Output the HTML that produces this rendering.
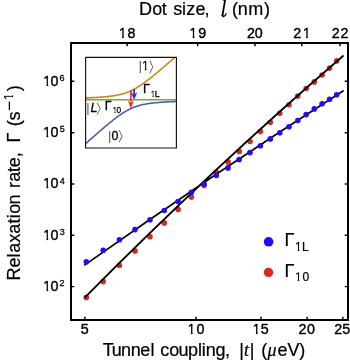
<!DOCTYPE html><html><head><meta charset="utf-8"><style>html,body{margin:0;padding:0;background:#fff;width:350px;height:360px;overflow:hidden}svg{display:block}</style></head><body>
<svg width="350" height="360" viewBox="0 0 350 360" style="will-change:transform">
<defs><clipPath id="c0"><rect x="188.57" y="323.13" width="4.19" height="3.84"/><rect x="190.91" y="323.13" width="1.68" height="11.03"/></clipPath><clipPath id="c1"><rect x="253.57" y="323.13" width="4.19" height="3.84"/><rect x="255.91" y="323.13" width="1.68" height="11.03"/></clipPath><clipPath id="c2"><rect x="119.77" y="27.13" width="4.19" height="3.84"/><rect x="122.11" y="27.13" width="1.68" height="11.03"/></clipPath><clipPath id="c3"><rect x="190.37" y="27.13" width="4.19" height="3.84"/><rect x="192.71" y="27.13" width="1.68" height="11.03"/></clipPath><clipPath id="c4"><rect x="303.79" y="27.13" width="4.19" height="3.84"/><rect x="306.13" y="27.13" width="1.68" height="11.03"/></clipPath><clipPath id="c5"><rect x="44.17" y="280.53" width="4.19" height="3.84"/><rect x="46.51" y="280.53" width="1.68" height="11.03"/></clipPath><clipPath id="c6"><rect x="44.17" y="229.23" width="4.19" height="3.84"/><rect x="46.51" y="229.23" width="1.68" height="11.03"/></clipPath><clipPath id="c7"><rect x="44.17" y="177.93" width="4.19" height="3.84"/><rect x="46.51" y="177.93" width="1.68" height="11.03"/></clipPath><clipPath id="c8"><rect x="44.17" y="126.63" width="4.19" height="3.84"/><rect x="46.51" y="126.63" width="1.68" height="11.03"/></clipPath><clipPath id="c9"><rect x="44.17" y="75.23" width="4.19" height="3.84"/><rect x="46.51" y="75.23" width="1.68" height="11.03"/></clipPath><clipPath id="c10"><rect x="295.82" y="242.01" width="3.52" height="3.22"/><rect x="297.79" y="242.01" width="1.41" height="9.26"/></clipPath><clipPath id="c11"><rect x="295.82" y="272.61" width="3.52" height="3.22"/><rect x="297.79" y="272.61" width="1.41" height="9.26"/></clipPath><clipPath id="c12"><rect x="181.01" y="-16.46" width="3.66" height="3.36"/><rect x="183.06" y="-16.46" width="1.47" height="9.64"/></clipPath><clipPath id="c13"><rect x="142.81" y="60.84" width="3.66" height="3.36"/><rect x="144.86" y="60.84" width="1.47" height="9.64"/></clipPath><clipPath id="c14"><rect x="151.10" y="90.18" width="2.61" height="2.39"/><rect x="152.55" y="90.18" width="1.05" height="6.87"/></clipPath><clipPath id="c15"><rect x="113.21" y="107.12" width="2.43" height="2.23"/><rect x="114.57" y="107.12" width="0.98" height="6.40"/></clipPath></defs>
<g fill="#d42a20"><circle cx="86.3" cy="297.4" r="2.8"/><circle cx="103.2" cy="281.6" r="2.8"/><circle cx="119.4" cy="265.5" r="2.8"/><circle cx="135.0" cy="250.9" r="2.8"/><circle cx="150.0" cy="236.7" r="2.8"/><circle cx="164.3" cy="222.9" r="2.8"/><circle cx="178.1" cy="209.4" r="2.8"/><circle cx="191.4" cy="197.1" r="2.8"/><circle cx="204.1" cy="185.4" r="2.8"/><circle cx="216.3" cy="172.2" r="2.8"/><circle cx="228.0" cy="161.9" r="2.8"/><circle cx="239.2" cy="151.4" r="2.8"/><circle cx="250.0" cy="141.5" r="2.8"/><circle cx="260.4" cy="131.4" r="2.8"/><circle cx="270.3" cy="122.3" r="2.8"/><circle cx="279.8" cy="113.3" r="2.8"/><circle cx="289.0" cy="104.8" r="2.8"/><circle cx="297.8" cy="96.1" r="2.8"/><circle cx="306.2" cy="88.5" r="2.8"/><circle cx="314.3" cy="81.9" r="2.8"/><circle cx="322.1" cy="75.0" r="2.8"/><circle cx="329.6" cy="68.1" r="2.8"/><circle cx="336.7" cy="60.9" r="2.8"/></g>
<path d="M85.0 297.29Q214.00 167.14 343.0 56.00 M84.9 264.89Q213.95 173.49 343.0 90.91" fill="none" stroke="#000" stroke-width="1.75" stroke-linecap="round"/>
<g fill="#220cf6"><circle cx="86.3" cy="261.7" r="2.8"/><circle cx="103.2" cy="250.3" r="2.8"/><circle cx="119.4" cy="239.7" r="2.8"/><circle cx="135.0" cy="229.6" r="2.8"/><circle cx="150.0" cy="219.8" r="2.8"/><circle cx="164.3" cy="210.5" r="2.8"/><circle cx="178.1" cy="201.5" r="2.8"/><circle cx="191.4" cy="192.3" r="2.8"/><circle cx="204.1" cy="184.0" r="2.8"/><circle cx="216.3" cy="175.5" r="2.8"/><circle cx="228.0" cy="167.9" r="2.8"/><circle cx="239.2" cy="159.6" r="2.8"/><circle cx="250.0" cy="152.6" r="2.8"/><circle cx="260.4" cy="145.7" r="2.8"/><circle cx="270.3" cy="138.9" r="2.8"/><circle cx="279.8" cy="132.7" r="2.8"/><circle cx="289.0" cy="126.7" r="2.8"/><circle cx="297.8" cy="120.5" r="2.8"/><circle cx="306.2" cy="114.6" r="2.8"/><circle cx="314.3" cy="108.9" r="2.8"/><circle cx="322.1" cy="103.8" r="2.8"/><circle cx="329.6" cy="99.3" r="2.8"/><circle cx="336.7" cy="94.8" r="2.8"/></g>
<rect x="71.0" y="43.0" width="277.0" height="277.0" fill="none" stroke="#000" stroke-width="2"/>
<path d="M84.9 320.0v-3.3 M196.0 320.0v-3.3 M261.0 320.0v-3.3 M307.1 320.0v-3.3 M342.8 320.0v-3.3 M71.0 286.6h3.3 M348.0 286.6h-3.3 M71.0 235.3h3.3 M348.0 235.3h-3.3 M71.0 184.0h3.3 M348.0 184.0h-3.3 M71.0 132.7h3.3 M348.0 132.7h-3.3 M71.0 81.3h3.3 M348.0 81.3h-3.3 M127.1 43.0v3.3 M197.6 43.0v3.3 M255.0 43.0v3.3 M301.8 43.0v3.3 M340.0 43.0v3.3" stroke="#000" stroke-width="1.45" fill="none"/>
<g fill="#000" stroke="#000"><text x="80.64" y="333.60" font-size="14.3" font-family="Liberation Sans" stroke-width="0.4">5</text><text x="187.52" y="333.60" font-size="14.3" font-family="Liberation Sans" stroke-width="0.4" clip-path="url(#c0)">1</text><text x="196.61" y="333.60" font-size="14.3" font-family="Liberation Sans" stroke-width="0.4">0</text><text x="252.52" y="333.60" font-size="14.3" font-family="Liberation Sans" stroke-width="0.4" clip-path="url(#c1)">1</text><text x="260.85" y="333.60" font-size="14.3" font-family="Liberation Sans" stroke-width="0.4">5</text><text x="298.58 306.91" y="333.60" font-size="14.3" font-family="Liberation Sans" stroke-width="0.4">20</text><text x="334.28 342.25" y="333.60" font-size="14.3" font-family="Liberation Sans" stroke-width="0.4">25</text><text x="118.72" y="37.60" font-size="14.3" font-family="Liberation Sans" stroke-width="0.4" clip-path="url(#c2)">1</text><text x="127.57" y="37.60" font-size="14.3" font-family="Liberation Sans" stroke-width="0.4">8</text><text x="189.32" y="37.60" font-size="14.3" font-family="Liberation Sans" stroke-width="0.4" clip-path="url(#c3)">1</text><text x="198.22" y="37.60" font-size="14.3" font-family="Liberation Sans" stroke-width="0.4">9</text><text x="246.88 254.71" y="37.60" font-size="14.3" font-family="Liberation Sans" stroke-width="0.4">20</text><text x="293.18" y="37.60" font-size="14.3" font-family="Liberation Sans" stroke-width="0.4">2</text><text x="302.74" y="37.60" font-size="14.3" font-family="Liberation Sans" stroke-width="0.4" clip-path="url(#c4)">1</text><text x="331.68 340.57" y="37.60" font-size="14.3" font-family="Liberation Sans" stroke-width="0.4">22</text><text x="43.12" y="291.00" font-size="14.3" font-family="Liberation Sans" stroke-width="0.4" clip-path="url(#c5)">1</text><text x="50.61" y="291.00" font-size="14.3" font-family="Liberation Sans" stroke-width="0.4">0</text><text x="59.55" y="286.30" font-size="9" font-family="Liberation Sans" stroke-width="0.27999999999999997">2</text><text x="43.12" y="239.70" font-size="14.3" font-family="Liberation Sans" stroke-width="0.4" clip-path="url(#c6)">1</text><text x="50.61" y="239.70" font-size="14.3" font-family="Liberation Sans" stroke-width="0.4">0</text><text x="59.66" y="235.00" font-size="9" font-family="Liberation Sans" stroke-width="0.27999999999999997">3</text><text x="43.12" y="188.40" font-size="14.3" font-family="Liberation Sans" stroke-width="0.4" clip-path="url(#c7)">1</text><text x="50.61" y="188.40" font-size="14.3" font-family="Liberation Sans" stroke-width="0.4">0</text><text x="59.79" y="183.70" font-size="9" font-family="Liberation Sans" stroke-width="0.27999999999999997">4</text><text x="43.12" y="137.10" font-size="14.3" font-family="Liberation Sans" stroke-width="0.4" clip-path="url(#c8)">1</text><text x="50.61" y="137.10" font-size="14.3" font-family="Liberation Sans" stroke-width="0.4">0</text><text x="59.64" y="132.40" font-size="9" font-family="Liberation Sans" stroke-width="0.27999999999999997">5</text><text x="43.12" y="85.70" font-size="14.3" font-family="Liberation Sans" stroke-width="0.4" clip-path="url(#c9)">1</text><text x="50.61" y="85.70" font-size="14.3" font-family="Liberation Sans" stroke-width="0.4">0</text><text x="59.54" y="81.00" font-size="9" font-family="Liberation Sans" stroke-width="0.27999999999999997">6</text><text x="138.92 152.14 161.73 168.00 173.20 181.90 186.27 195.44 204.38" y="15.20" font-size="18" font-family="Liberation Sans" stroke-width="0.22">Dot size,</text><text x="231.98 237.70 248.20 263.89" y="15.20" font-size="18" font-family="Liberation Sans" stroke-width="0.22">(nm)</text><text x="102.70 111.73 121.10 130.80 140.34 150.49 155.00 160.34 169.24 178.53 187.94 197.89 201.70 205.70 215.54 224.98 230.00 239.19" y="355.70" font-size="18" font-family="Liberation Sans" stroke-width="0.22">Tunnel coupling, |</text><text x="244.01" y="355.70" font-size="18" font-family="Liberation Serif" font-style="italic" stroke-width="0.22">t</text><text x="249.69 255.00 261.28" y="355.70" font-size="18" font-family="Liberation Sans" stroke-width="0.22">| (</text><text x="267.42" y="355.70" font-size="18" font-family="Liberation Serif" font-style="italic" stroke-width="0.22">μ</text><text x="277.54 287.62 299.29" y="355.70" font-size="18" font-family="Liberation Sans" stroke-width="0.22">eV)</text><text x="284.42" y="246.10" font-size="18" font-family="Liberation Sans" stroke-width="0.22">Γ</text><text x="294.95" y="250.80" font-size="12" font-family="Liberation Sans" stroke-width="0.22" clip-path="url(#c10)">1</text><text x="302.02" y="250.80" font-size="12" font-family="Liberation Sans" stroke-width="0.22">L</text><text x="284.42" y="277.00" font-size="18" font-family="Liberation Sans" stroke-width="0.22">Γ</text><text x="294.95" y="281.40" font-size="12" font-family="Liberation Sans" stroke-width="0.22" clip-path="url(#c11)">1</text><text x="302.39" y="281.40" font-size="12" font-family="Liberation Sans" stroke-width="0.22">0</text></g>
<text fill="#000" x="220.30" y="16.00" font-size="22.5" font-family="Liberation Serif" font-style="italic" stroke="none">l</text>
<path d="M222.4 14.2Q222 16.8 223.9 16.5Q225.3 16.1 226.2 13.6" fill="none" stroke="#000" stroke-width="1.3" stroke-linecap="round" stroke-linejoin="round"/>
<g transform="translate(20.2 280.0) rotate(-90)" fill="#000" stroke="#000"><text x="-0.38 12.64 22.49 27.24 37.40 46.24 56.63 61.70 66.24 75.50 85.00 92.10 98.24 108.13 112.84 122.68 130.00 137.52 150.00 153.78 159.50" y="0.00" font-size="18" font-family="Liberation Sans" stroke-width="0.22">Relaxation rate, Γ (s</text><text x="169.20" y="-5.60" font-size="17.2" font-family="Liberation Sans" stroke="none">−</text><text x="180.10" y="-7.30" font-size="12.5" font-family="Liberation Sans" stroke-width="0.22" clip-path="url(#c12)">1</text><text x="188.89" y="0.00" font-size="18" font-family="Liberation Sans" stroke-width="0.22">)</text></g>
<circle cx="268.6" cy="241.8" r="4.8" fill="#220cf6"/>
<circle cx="268.5" cy="272.4" r="4.7" fill="#d42a20"/>
<svg x="85.6" y="57.4" width="90.8" height="90.6" viewBox="85.6 57.4 90.8 90.6" overflow="hidden">
<path d="M84.0 97.97 L85.0 97.94 L86.0 97.90 L87.0 97.86 L88.0 97.83 L89.0 97.78 L90.0 97.74 L91.0 97.70 L92.0 97.65 L93.0 97.60 L94.0 97.55 L95.0 97.50 L96.0 97.44 L97.0 97.39 L98.0 97.33 L99.0 97.26 L100.0 97.19 L101.0 97.12 L102.0 97.05 L103.0 96.97 L104.0 96.89 L105.0 96.80 L106.0 96.71 L107.0 96.61 L108.0 96.50 L109.0 96.39 L110.0 96.28 L111.0 96.15 L112.0 96.02 L113.0 95.88 L114.0 95.73 L115.0 95.57 L116.0 95.39 L117.0 95.21 L118.0 95.01 L119.0 94.80 L120.0 94.58 L121.0 94.34 L122.0 94.08 L123.0 93.80 L124.0 93.51 L125.0 93.19 L126.0 92.86 L127.0 92.50 L128.0 92.12 L129.0 91.71 L130.0 91.28 L131.0 90.83 L132.0 90.36 L133.0 89.86 L134.0 89.33 L135.0 88.78 L136.0 88.21 L137.0 87.62 L138.0 87.01 L139.0 86.38 L140.0 85.72 L141.0 85.06 L142.0 84.37 L143.0 83.67 L144.0 82.95 L145.0 82.22 L146.0 81.48 L147.0 80.72 L148.0 79.96 L149.0 79.19 L150.0 78.40 L151.0 77.61 L152.0 76.81 L153.0 76.00 L154.0 75.19 L155.0 74.37 L156.0 73.54 L157.0 72.71 L158.0 71.88 L159.0 71.04 L160.0 70.19 L161.0 69.34 L162.0 68.49 L163.0 67.64 L164.0 66.78 L165.0 65.92 L166.0 65.05 L167.0 64.19 L168.0 63.32 L169.0 62.45 L170.0 61.58 L171.0 60.70 L172.0 59.82 L173.0 58.95 L174.0 58.07 L175.0 57.19 L176.0 56.30 L177.0 55.42 L178.0 54.54" fill="none" stroke="#c88a16" stroke-width="1.6" stroke-linejoin="round"/>
<path d="M84 99.75H178" stroke="#7aab2e" stroke-width="1.6"/>
<path d="M84.0 145.20 L85.0 144.30 L86.0 143.40 L87.0 142.50 L88.0 141.60 L89.0 140.71 L90.0 139.81 L91.0 138.92 L92.0 138.04 L93.0 137.15 L94.0 136.27 L95.0 135.39 L96.0 134.51 L97.0 133.63 L98.0 132.76 L99.0 131.89 L100.0 131.02 L101.0 130.16 L102.0 129.30 L103.0 128.45 L104.0 127.60 L105.0 126.75 L106.0 125.92 L107.0 125.08 L108.0 124.25 L109.0 123.43 L110.0 122.62 L111.0 121.81 L112.0 121.01 L113.0 120.22 L114.0 119.44 L115.0 118.67 L116.0 117.92 L117.0 117.17 L118.0 116.44 L119.0 115.72 L120.0 115.01 L121.0 114.32 L122.0 113.65 L123.0 113.00 L124.0 112.36 L125.0 111.75 L126.0 111.16 L127.0 110.59 L128.0 110.04 L129.0 109.52 L130.0 109.02 L131.0 108.54 L132.0 108.09 L133.0 107.66 L134.0 107.26 L135.0 106.88 L136.0 106.52 L137.0 106.19 L138.0 105.88 L139.0 105.58 L140.0 105.31 L141.0 105.05 L142.0 104.81 L143.0 104.59 L144.0 104.38 L145.0 104.18 L146.0 104.00 L147.0 103.83 L148.0 103.67 L149.0 103.52 L150.0 103.38 L151.0 103.25 L152.0 103.12 L153.0 103.01 L154.0 102.90 L155.0 102.79 L156.0 102.69 L157.0 102.60 L158.0 102.51 L159.0 102.43 L160.0 102.35 L161.0 102.28 L162.0 102.21 L163.0 102.14 L164.0 102.08 L165.0 102.02 L166.0 101.96 L167.0 101.90 L168.0 101.85 L169.0 101.80 L170.0 101.75 L171.0 101.71 L172.0 101.66 L173.0 101.62 L174.0 101.58 L175.0 101.54 L176.0 101.50 L177.0 101.47 L178.0 101.43" fill="none" stroke="#4562b0" stroke-width="1.6" stroke-linejoin="round"/>
</svg>
<rect x="85.6" y="57.4" width="90.8" height="90.6" fill="none" stroke="#111" stroke-width="1.15" stroke-linejoin="round"/>
<path d="M130.9 90V101.5" stroke="#e2382c" stroke-width="1.7"/><path d="M127.9 100.7L130.9 102.4L133.9 100.7L130.9 108.8Z" fill="#e2382c"/>
<path d="M134.1 89V94" stroke="#2020ff" stroke-width="1.7"/><path d="M131.0 92.5L134.1 94.5L137.2 92.5L134.1 99.8Z" fill="#2020ff"/>
<path d="M149.9 60.6L152.7 66.95L149.9 73.3" fill="none" stroke="#555" stroke-width="0.9"/><path d="M97.1 102.6L100.3 108.6L97.1 114.6" fill="none" stroke="#555" stroke-width="0.9"/><path d="M119.1 130.0L122.1 136.15L119.1 142.3" fill="none" stroke="#555" stroke-width="0.9"/>
<g fill="#000" stroke="#000"><g fill="#555"><text x="138.58" y="70.43" font-size="13.66" font-family="Liberation Sans" stroke="none">|</text><text x="86.35" y="111.89" font-size="12.9" font-family="Liberation Sans" stroke="none">|</text><text x="108.02" y="139.52" font-size="13.23" font-family="Liberation Sans" stroke="none">|</text></g><text x="141.90" y="70.00" font-size="12.5" font-family="Liberation Sans" stroke-width="0.3" clip-path="url(#c13)">1</text><text x="90.52" y="111.50" font-size="12.5" font-family="Liberation Sans" font-style="italic" stroke-width="0.3">L</text><text x="111.51" y="139.60" font-size="12.5" font-family="Liberation Sans" stroke-width="0.3">0</text><text x="143.07" y="93.30" font-size="12.5" font-family="Liberation Sans" stroke-width="0.3">Γ</text><text x="150.44" y="96.70" font-size="8.9" font-family="Liberation Sans" stroke-width="0.3" clip-path="url(#c14)">1</text><text x="154.67" y="96.70" font-size="8.9" font-family="Liberation Sans" stroke-width="0.3">L</text><text x="104.87" y="110.10" font-size="12.5" font-family="Liberation Sans" stroke-width="0.3">Γ</text><text x="112.60" y="113.20" font-size="8.3" font-family="Liberation Sans" stroke-width="0.3" clip-path="url(#c15)">1</text><text x="116.58" y="113.20" font-size="8.3" font-family="Liberation Sans" stroke-width="0.3">0</text></g>
</svg></body></html>
